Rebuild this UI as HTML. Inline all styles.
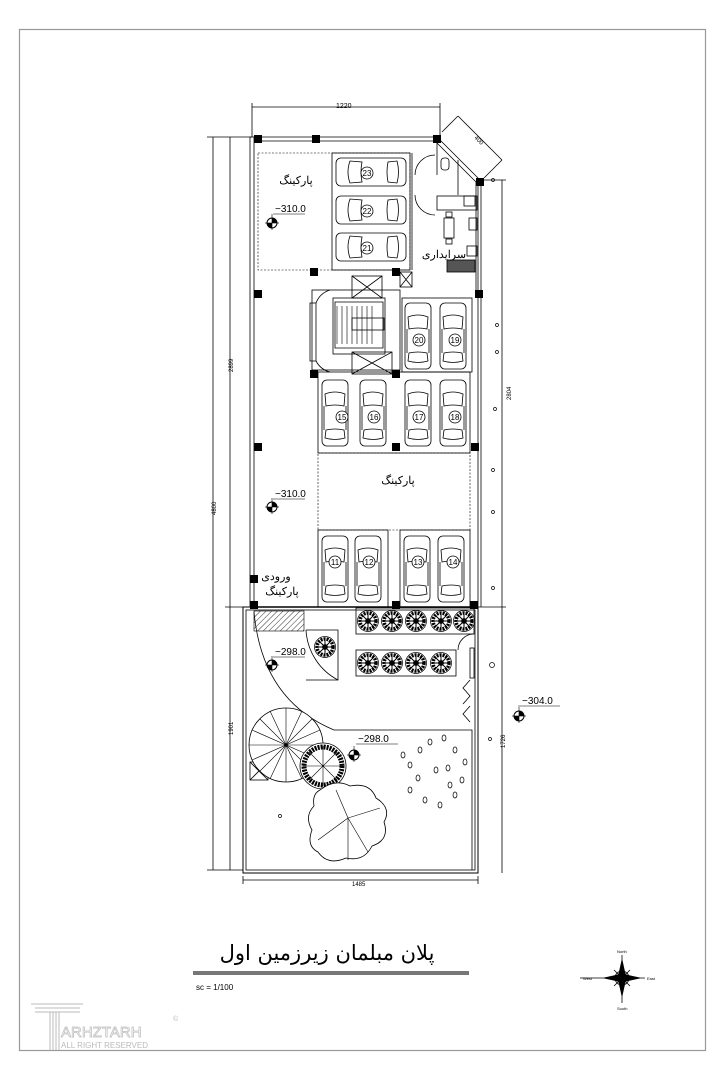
<!DOCTYPE html>
<html><head><meta charset="utf-8"><style>
html,body{margin:0;padding:0;background:#fff;}
svg{display:block}
text{font-family:"Liberation Sans",sans-serif;fill:#000}
.fa{font-family:"Liberation Serif","DejaVu Sans",sans-serif}
</style></head><body>
<svg width="726" height="1080" viewBox="0 0 726 1080" xmlns="http://www.w3.org/2000/svg">
<defs>
<g id="carv" fill="none" stroke="#000" stroke-width="0.8">
<rect x="0" y="0" width="26" height="66" rx="5"/>
<path d="M3 14 Q13 10 23 14 L22 26 Q13 24 4 26 Z"/>
<path d="M4 50 Q13 48 22 50 L23 58 Q13 61 3 58 Z"/>
<line x1="2" y1="26" x2="2" y2="50"/><line x1="24" y1="26" x2="24" y2="50"/>
</g>
<g id="carh" fill="none" stroke="#000" stroke-width="0.8">
<rect x="0" y="0" width="70" height="28" rx="5"/>
<path d="M14 3 Q10 14 14 25 L26 24 Q24 14 26 4 Z"/>
<path d="M52 4 Q50 14 52 24 L61 25 Q64 14 61 3 Z"/>
</g>
<g id="tree" stroke="#000" stroke-width="0.7" fill="none">
<circle r="10.5" fill="#fff"/>
<circle r="8" stroke-dasharray="2 1" stroke-width="3.5"/>
<path d="M-9 0H9M0-9V9M-6-6L6 6M-6 6L6-6" stroke-width="1"/>
<circle r="2.5" fill="#000"/>
</g>
<g id="col"><rect x="-4" y="-4" width="8" height="8" fill="#000"/></g>
<g id="mark"><circle r="5" fill="#fff" stroke="#000"/><path d="M0-5A5 5 0 0 1 5 0H0Z M0 5A5 5 0 0 1 -5 0H0Z" fill="#000"/><line x1="-7" y1="0" x2="7" y2="0" stroke="#000" stroke-width="0.6"/><line x1="0" y1="-9" x2="0" y2="7" stroke="#000" stroke-width="0.6"/></g>
<pattern id="h" width="4" height="4" patternUnits="userSpaceOnUse" patternTransform="rotate(45)"><line x1="0" y1="0" x2="0" y2="4" stroke="#000" stroke-width="0.8"/></pattern>
</defs>

<rect x="19.5" y="29.5" width="686" height="1021" fill="none" stroke="#999" stroke-width="1.2"/>

<g stroke="#000" fill="none" stroke-width="0.8">
<line x1="252" y1="107" x2="440" y2="107"/><line x1="252" y1="103" x2="252" y2="137"/><line x1="440" y1="103" x2="440" y2="137"/>
<line x1="213" y1="137" x2="213" y2="870"/><line x1="207" y1="137" x2="252" y2="137"/><line x1="207" y1="870" x2="243" y2="870"/>
<line x1="230" y1="137" x2="230" y2="870"/><line x1="225" y1="607" x2="250" y2="607"/>
<line x1="502" y1="180" x2="502" y2="873"/><line x1="480" y1="180" x2="506" y2="180"/><line x1="478" y1="607" x2="506" y2="607"/>
<line x1="243" y1="880" x2="478" y2="880"/><line x1="243" y1="876" x2="243" y2="884"/><line x1="478" y1="876" x2="478" y2="884"/>
<line x1="458" y1="116" x2="502" y2="160"/><line x1="458" y1="116" x2="442" y2="132"/><line x1="502" y1="160" x2="484" y2="178"/>
<rect x="250" y="137" width="4" height="470"/>
<line x1="258" y1="137" x2="437" y2="137"/><line x1="258" y1="141" x2="437" y2="141"/>
<line x1="437" y1="137" x2="480" y2="180"/><line x1="434" y1="140" x2="477" y2="183"/>
<line x1="478" y1="180" x2="478" y2="607"/><line x1="481" y1="180" x2="481" y2="607"/>
<rect x="243" y="607" width="235" height="266" stroke-width="1"/>
<rect x="246" y="610" width="229" height="260"/>
<line x1="254" y1="607" x2="478" y2="607" stroke-width="1.5"/>
<rect x="258" y="153" width="152" height="117" stroke-dasharray="2 1.5" stroke-width="0.6"/>
<rect x="332" y="153" width="78" height="117"/>
<rect x="318" y="453" width="152" height="77" stroke-dasharray="2 1.5" stroke-width="0.6"/>
<rect x="318" y="530" width="70" height="77"/><rect x="400" y="530" width="70" height="77"/>
<rect x="318" y="372" width="152" height="81"/>
<rect x="402" y="298" width="70" height="74"/>
<rect x="312" y="290" width="88" height="80"/>
<rect x="333" y="298" width="52" height="56"/>
<path d="M335 302H383V348H335Z"/>
<path d="M337 306V344 M342 306V344 M347 306V344 M352 306V344 M357 306V344 M362 306V344 M367 306V344 M372 306V344" stroke-width="0.6"/>
<rect x="352" y="318" width="32" height="12"/>
<rect x="352" y="276" width="30" height="22"/><path d="M352 276L382 298M382 276L352 298"/>
<rect x="352" y="352" width="40" height="22"/><path d="M352 352L392 374M392 352L352 374"/>
<rect x="400" y="272" width="12" height="15"/><path d="M400 272L412 287M412 272L400 287"/>
<rect x="310" y="303" width="6" height="58"/>
<path d="M316 303A22 22 0 0 1 330 290 M316 361A22 22 0 0 0 330 372"/>
<line x1="412" y1="153" x2="412" y2="270"/>
<line x1="437" y1="141" x2="437" y2="175"/><line x1="458" y1="160" x2="458" y2="195"/>
<path d="M415 175A20 20 0 0 1 435 155 M415 195A20 20 0 0 0 435 215"/>
<rect x="437" y="196" width="40" height="14"/><rect x="464" y="196" width="11" height="10"/>
<rect x="441" y="158" width="8" height="12" rx="3"/>
<rect x="444" y="218" width="10" height="20"/><rect x="446" y="212" width="6" height="5"/><rect x="446" y="239" width="6" height="5"/>
<rect x="469" y="218" width="8" height="12"/><rect x="467" y="246" width="10" height="10"/>
<rect x="447" y="260" width="28" height="12" fill="#555"/>
<line x1="476" y1="182" x2="476" y2="290"/>
<rect x="356" y="608" width="118" height="26"/>
<rect x="356" y="650" width="100" height="26"/>
<path d="M306 630H338V680H306" />
<path d="M306 630A60 60 0 0 0 338 680"/>
<path d="M254 612Q262 700 334 730H472V870"/>
<rect x="470" y="648" width="4" height="30"/>
<path d="M470 680L463 688L470 696L463 704 M470 706L463 714L470 722"/>
<path d="M474 634A16 16 0 0 0 458 650"/>
<rect x="250" y="762" width="18" height="18"/><path d="M250 762L268 780M268 762L250 780"/>
</g>
<rect x="254" y="611" width="50" height="20" fill="url(#h)" stroke="#000" stroke-width="0.6"/>

<use href="#col" x="258" y="139"/><use href="#col" x="316" y="139"/><use href="#col" x="437" y="139"/><use href="#col" x="480" y="182"/>
<use href="#col" x="258" y="294"/><use href="#col" x="314" y="272"/><use href="#col" x="396" y="272"/><use href="#col" x="479" y="294"/>
<use href="#col" x="314" y="374"/><use href="#col" x="396" y="374"/>
<use href="#col" x="258" y="447"/><use href="#col" x="396" y="447"/><use href="#col" x="475" y="447"/>
<use href="#col" x="254" y="579"/><use href="#col" x="254" y="605"/><use href="#col" x="396" y="605"/><use href="#col" x="474" y="605"/>

<use href="#carh" x="336" y="158"/><use href="#carh" x="336" y="196"/><use href="#carh" x="336" y="233"/>
<use href="#carv" x="405" y="303"/><use href="#carv" x="440" y="303"/>
<use href="#carv" x="322" y="380"/><use href="#carv" x="360" y="380"/><use href="#carv" x="405" y="380"/><use href="#carv" x="440" y="380"/>
<use href="#carv" x="322" y="536"/><use href="#carv" x="355" y="536"/><use href="#carv" x="404" y="536"/><use href="#carv" x="438" y="536"/>
<g fill="#fff" stroke="#000" stroke-width="0.8">
<circle cx="367" cy="173" r="6"/><circle cx="367" cy="211" r="6"/><circle cx="367" cy="248" r="6"/>
<circle cx="419" cy="340" r="6"/><circle cx="455" cy="340" r="6"/>
<circle cx="342" cy="417" r="6"/><circle cx="374" cy="417" r="6"/><circle cx="419" cy="417" r="6"/><circle cx="455" cy="417" r="6"/>
<circle cx="335" cy="562" r="6"/><circle cx="369" cy="562" r="6"/><circle cx="418" cy="562" r="6"/><circle cx="453" cy="562" r="6"/>
</g>
<g font-size="8" text-anchor="middle">
<text x="367" y="176">23</text><text x="367" y="214">22</text><text x="367" y="251">21</text>
<text x="419" y="343">20</text><text x="455" y="343">19</text>
<text x="342" y="420">15</text><text x="374" y="420">16</text><text x="419" y="420">17</text><text x="455" y="420">18</text>
<text x="335" y="565">11</text><text x="369" y="565">12</text><text x="418" y="565">13</text><text x="453" y="565">14</text>
</g>

<use href="#tree" x="368" y="621"/><use href="#tree" x="392" y="621"/><use href="#tree" x="416" y="621"/><use href="#tree" x="441" y="621"/><use href="#tree" x="464" y="621"/>
<use href="#tree" x="368" y="663"/><use href="#tree" x="392" y="663"/><use href="#tree" x="416" y="663"/><use href="#tree" x="441" y="663"/>
<use href="#tree" x="325" y="647"/>
<g stroke="#000" fill="#fff" stroke-width="0.8">
<circle cx="286" cy="745" r="37"/>
<path d="M286 708V782M249 745H323M260 719L312 771M260 771L312 719M270 711L302 779M252 730L320 760M252 760L320 730M270 779L302 711" fill="none" stroke-width="0.6"/>
<circle cx="323" cy="766" r="23"/>
<circle cx="323" cy="766" r="19" fill="none" stroke-dasharray="2 1" stroke-width="5"/>
<path d="M303 766H343M323 746V786M309 752L337 780M309 780L337 752" fill="none" stroke-width="0.6"/>
<path d="M320 790Q335 778 350 786Q370 782 376 798Q392 808 384 822Q390 840 372 846Q364 862 346 858Q328 866 318 852Q306 846 312 830Q304 816 314 806Q312 794 320 790Z"/>
<path d="M348 818L336 790M348 818L380 808M348 818L368 852M348 818L318 840M348 818V860" fill="none" stroke-width="0.6"/>
</g>
<g fill="none" stroke="#000" stroke-width="0.7">
<ellipse cx="420" cy="750" rx="2" ry="3"/><ellipse cx="430" cy="742" rx="2" ry="3"/><ellipse cx="444" cy="738" rx="2" ry="3"/><ellipse cx="455" cy="750" rx="2" ry="3"/>
<ellipse cx="410" cy="765" rx="2" ry="3"/><ellipse cx="465" cy="762" rx="2" ry="3"/><ellipse cx="462" cy="780" rx="2" ry="3"/><ellipse cx="410" cy="790" rx="2" ry="3"/>
<ellipse cx="425" cy="800" rx="2" ry="3"/><ellipse cx="440" cy="805" rx="2" ry="3"/><ellipse cx="455" cy="795" rx="2" ry="3"/><ellipse cx="436" cy="770" rx="2" ry="3"/>
<ellipse cx="448" cy="768" rx="2" ry="3"/><ellipse cx="418" cy="778" rx="2" ry="3"/><ellipse cx="450" cy="785" rx="2" ry="3"/><ellipse cx="403" cy="755" rx="2" ry="3"/>
</g>
<g fill="none" stroke="#000" stroke-width="0.7">
<circle cx="493" cy="180" r="1.5"/><circle cx="497" cy="325" r="1.5"/><circle cx="497" cy="352" r="1.5"/><circle cx="495" cy="409" r="1.5"/><circle cx="493" cy="470" r="1.5"/><circle cx="493" cy="512" r="1.5"/><circle cx="493" cy="588" r="1.5"/><circle cx="492" cy="665" r="2.5"/><circle cx="490" cy="739" r="1.5"/><circle cx="280" cy="816" r="1.5"/>
</g>

<g font-size="10">
<text x="275" y="212">−310.0</text><line x1="273" y1="214" x2="305" y2="214" stroke="#000" stroke-width="0.6"/><use href="#mark" x="272" y="223"/>
<text x="275" y="497">−310.0</text><line x1="273" y1="499" x2="305" y2="499" stroke="#000" stroke-width="0.6"/><use href="#mark" x="272" y="507"/>
<text x="275" y="655">−298.0</text><line x1="273" y1="657" x2="305" y2="657" stroke="#000" stroke-width="0.6"/><use href="#mark" x="272" y="665"/>
<text x="358" y="742">−298.0</text><line x1="356" y1="744" x2="398" y2="744" stroke="#000" stroke-width="0.6"/><use href="#mark" x="354" y="755"/>
<text x="522" y="704">−304.0</text><line x1="518" y1="706" x2="560" y2="706" stroke="#000" stroke-width="0.6"/><use href="#mark" x="519" y="716"/>
</g>
<g font-size="6">
<text x="336" y="108" font-size="7">1220</text>
<text x="352" y="886">1485</text>
<text transform="translate(216,515) rotate(-90)">4800</text>
<text transform="translate(233,372) rotate(-90)">2899</text>
<text transform="translate(233,735) rotate(-90)">1901</text>
<text transform="translate(511,400) rotate(-90)">2804</text>
<text transform="translate(505,748) rotate(-90)">1726</text>
<text transform="translate(474,138) rotate(45)">400</text>
</g>

<g class="fa" font-size="11" text-anchor="middle">
<text x="296" y="184">پارکینگ</text>
<text x="398" y="484">پارکینگ</text>
<text x="444" y="258">سرایداری</text>
<text x="276" y="580">ورودی</text>
<text x="282" y="595">پارکینگ</text>
</g>
<text x="327" y="960" font-size="21" text-anchor="middle" style="font-family:'DejaVu Sans','Noto Sans CJK SC',sans-serif">پلان مبلمان زیرزمین اول</text>
<rect x="193" y="971" width="276" height="4" fill="#777"/>
<text x="196" y="990" font-size="8">sc = 1/100</text>

<g stroke="#000" fill="none" stroke-width="0.8">
<line x1="580" y1="978" x2="645" y2="978"/><line x1="622" y1="955" x2="622" y2="1003"/>
<circle cx="622" cy="978" r="7"/><circle cx="622" cy="978" r="4"/>
<path d="M614 970L630 986M630 970L614 986"/>
<path d="M618 978L622 960L626 978L622 996Z" fill="#000"/>
<path d="M622 974L604 978L622 982L640 978Z" fill="#000"/>
</g>
<g font-size="4"><text x="617" y="953">North</text><text x="617" y="1010">South</text><text x="583" y="980">West</text><text x="647" y="980">East</text></g>

<g fill="none" stroke="#bbb" stroke-width="1">
<line x1="31" y1="1004" x2="83" y2="1004"/><line x1="35" y1="1008" x2="80" y2="1008"/><line x1="35" y1="1012" x2="80" y2="1012"/>
<path d="M50 1012V1050M53 1012V1050M56 1012V1050M59 1012V1050"/>
</g>
<text x="61" y="1037" font-size="15" stroke="#bbb" stroke-width="0.7" style="fill:none">ARHZTARH</text>
<text x="61" y="1048" font-size="8" style="fill:#bbb">ALL RIGHT RESERVED</text>
<text x="173" y="1021" font-size="7" style="fill:#bbb">©</text>
</svg>
</body></html>
